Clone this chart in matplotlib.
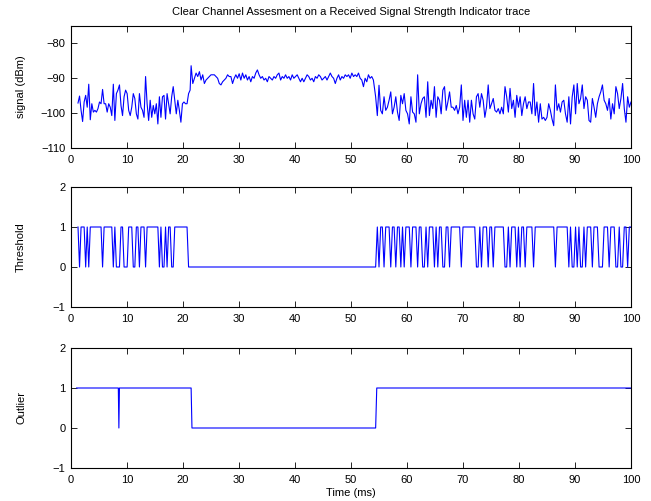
import numpy as np
import matplotlib
matplotlib.use("Agg")
import matplotlib.pyplot as plt

# RSSI trace (dBm), split into the three regimes
quiet1_span = (1.25, 21.27)
quiet1_rssi = [
    -97.1, -95.1, -99.2, -102.4, -96.8, -94.9, -98.3, -91.7, -101.9, -97.3,
    -99.7, -99.2, -99.7, -98.7, -96.8, -97.3, -93.2, -97.3, -97.3, -99.7,
    -97.3, -98.3, -100.7, -91.7, -102.1, -94.4, -93.4, -91.9, -97.8, -100.7,
    -95.3, -93.4, -94.4, -99.2, -100.7, -98.3, -94.4, -95.8, -100.2, -101.7,
    -94.4, -98.3, -99.2, -101.2, -89.5, -97.3, -102.1, -96.3, -101.2, -97.8,
    -100.2, -97.3, -103.1, -95.3, -101.2, -95.3, -94.9, -101.7, -94.4, -97.3,
    -100.2, -95.3, -92.4, -96.3, -100.2, -96.3, -99.2, -102.6, -97.3, -96.8,
    -97.3, -97.3, -94.4, -93.4,
]

busy_span = (21.45, 54.0)
busy_rssi = [
    -86.4, -91.5, -90.0, -88.5, -89.5, -88.1, -90.5, -89.0, -91.5, -90.5,
    -90.0, -89.5, -89.0, -89.0, -89.0, -89.5, -90.0, -91.5, -91.9, -91.0,
    -90.5, -90.0, -89.0, -89.5, -89.5, -91.5, -90.0, -89.0, -90.0, -88.7,
    -90.5, -88.5, -90.0, -89.0, -90.5, -89.5, -91.0, -89.5, -90.0, -88.5,
    -87.6, -89.0, -90.0, -89.5, -90.5, -90.0, -91.0, -89.5, -90.0, -90.5,
    -89.5, -90.0, -89.0, -88.5, -90.5, -89.5, -90.0, -89.0, -90.0, -89.5,
    -90.5, -89.0, -90.0, -89.5, -89.0, -90.0, -91.0,
    -90.0, -91.0, -90.0, -89.0, -89.5, -90.5, -90.0, -91.0, -89.5, -90.0,
    -89.0, -89.5, -90.5, -90.0, -89.5, -90.5, -89.5, -88.5, -89.5, -90.0,
    -91.5, -90.0, -89.0, -90.5, -89.5, -90.0, -89.0, -89.5, -89.0, -90.0,
    -88.5, -89.5, -89.0, -89.5, -88.5, -90.0, -90.5, -92.4, -90.0, -91.0,
    -89.0, -90.0, -89.5, -90.5,
]

quiet2_span = (54.4, 100.0)
quiet2_rssi = [
    -95.3, -100.7, -92.0, -99.2, -100.2, -95.3, -99.2, -98.3, -96.3, -93.9,
    -100.2, -98.3, -95.3, -99.7, -102.1, -94.9, -97.3, -94.4, -99.2, -100.2,
    -103.1, -95.3, -99.7, -100.2,
    -102.6, -89.0, -100.2, -97.3, -95.8, -95.3, -101.2, -91.0, -100.7, -96.3,
    -98.7, -92.4, -101.2, -95.3, -96.3, -100.2, -93.4, -92.4, -99.2, -96.8,
    -93.9, -98.3, -98.3, -99.2, -97.8, -100.2, -98.3, -91.9, -102.1, -96.3,
    -101.2, -96.3, -102.6, -96.3, -100.2, -101.7, -95.3, -94.4, -98.3, -94.4,
    -96.3, -101.2, -98.3, -91.9, -98.7, -97.3, -95.8, -99.2, -99.7, -98.7,
    -100.2, -98.3, -100.2, -92.4, -95.3, -99.7, -92.9, -98.7, -96.3, -101.2,
    -94.9, -98.3, -95.3, -100.7, -97.3, -95.3, -98.7, -96.8,
    -96.8, -100.2, -91.5, -100.7, -96.8, -102.6, -97.3, -101.7, -101.2, -102.1,
    -101.2, -97.3, -99.2, -101.7, -103.6, -91.9, -99.2, -97.3, -99.7, -96.8,
    -96.3, -100.2, -102.6, -95.3, -103.1, -95.3, -91.9, -100.2, -91.5, -97.3,
    -95.8, -91.9, -98.7, -95.3, -96.3, -102.1, -102.6, -95.8, -98.3, -101.2,
    -97.3, -95.3, -93.9, -91.9, -96.3, -97.3, -99.2, -95.8, -101.7, -97.3,
    -100.2, -92.4, -94.4, -98.7, -95.8, -91.5, -98.7, -102.6, -95.3, -98.3,
    -96.8,
]

# clear channel assessment level (dBm) and the outlier flag
cca_level = -96.0
outlier_t = [1.0, 8.45, 8.55, 8.65, 21.45, 21.6, 54.4, 54.6, 100.0]
outlier_v = [1, 1, 0, 1, 1, 0, 0, 1, 1]

t = np.concatenate([
    np.linspace(*quiet1_span, len(quiet1_rssi)),
    np.linspace(*busy_span, len(busy_rssi)),
    np.linspace(*quiet2_span, len(quiet2_rssi)),
])
rssi = np.array(quiet1_rssi + busy_rssi + quiet2_rssi)
threshold = (rssi < cca_level).astype(int)

plt.rcParams['font.family'] = ['Liberation Sans', 'DejaVu Sans']
plt.rcParams['font.size'] = 8

fig = plt.figure(figsize=(6.51, 5.01), dpi=100)
left, width = 71 / 651, 560 / 651
ax1 = fig.add_axes([left, 1 - 148 / 501, width, 122 / 501])
ax2 = fig.add_axes([left, 1 - 307 / 501, width, 120 / 501])
ax3 = fig.add_axes([left, 1 - 468 / 501, width, 120 / 501])

ax1.plot(t, rssi, color='#0000ff', lw=0.8)
ax2.plot(t, threshold, color='#0000ff', lw=0.8)
ax3.plot(outlier_t, outlier_v, color='#0000ff', lw=0.8)

ax1.set_ylim(-110, -75)
ax1.set_yticks([-110, -100, -90, -80])
ax1.set_ylabel('signal (dBm)')
ax1.set_title('Clear Channel Assesment on a Received Signal Strength Indicator trace',
              fontsize=8, pad=8)

for ax in (ax2, ax3):
    ax.set_ylim(-1, 2)
    ax.set_yticks([-1, 0, 1, 2])
ax2.set_ylabel('Threshold')
ax3.set_ylabel('Outlier')
ax3.set_xlabel('Time (ms)', labelpad=2)

for ax in (ax1, ax2, ax3):
    ax.set_xlim(0, 100)
    ax.set_xticks(range(0, 101, 10))
    ax.tick_params(direction='in', top=True, right=True, length=4, width=0.6)
    ax.tick_params(axis='x', pad=5)
    ax.tick_params(axis='y', pad=4)
    ax.yaxis.set_label_coords(-0.08, 0.5)
    for s in ax.spines.values():
        s.set_linewidth(0.8)

fig.savefig('out.png', dpi=100)
